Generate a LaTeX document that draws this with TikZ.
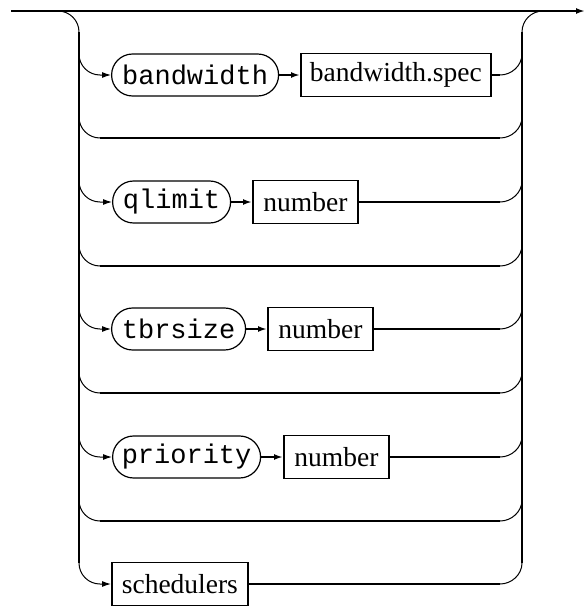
\documentclass[tikz,border=0pt]{standalone}
\usepackage{fontspec}
\setmainfont{Liberation Serif}
\setmonofont{Liberation Mono}
\usetikzlibrary{arrows.meta}
\begin{document}
\begin{tikzpicture}[x=1pt,y=-1pt,
  rail/.style={line width=1.8pt},
  curvy/.style={line width=1pt},
  tip/.style={-{Latex[length=9pt,width=6pt]}},
  pill/.style={draw,line width=1.2pt,rounded corners=21pt,minimum height=42pt,inner sep=0pt,anchor=west,font=\fontsize{27}{31}\selectfont\ttfamily},
  box/.style={draw,line width=1.8pt,minimum height=43pt,inner sep=0pt,anchor=west,font=\fontsize{27.5}{31}\selectfont}]
\useasboundingbox (0,0) rectangle (587,608);
% main line
\coordinate (start) at (11,11);
\coordinate (finish) at (585,11);
\coordinate (lt) at (58,11);
\coordinate (rt) at (543,11);
\draw[rail,-{Latex[length=9pt,width=6pt]}] (start) -- (finish);
% verticals
\draw[curvy] (lt) .. controls (69.6,11) and (79,20.4) .. (79,32);
\draw[curvy] (522,32) .. controls (522,20.4) and (531.4,11) .. (rt);
\draw[rail] (79,32) -- (79,563);
\draw[rail] (522,32) -- (522,563);
% nodes
\node[pill,minimum width=167pt] (bw) at (111,75) {bandwidth};
\node[box,minimum width=190pt] (bws) at (300,75) {bandwidth.spec};
\node[pill,minimum width=118pt] (ql) at (112,202) {qlimit};
\node[box,minimum width=105pt] (n1) at (252,202) {number};
\node[pill,minimum width=134pt] (tb) at (111,329) {tbrsize};
\node[box,minimum width=105pt] (n2) at (267,329) {number};
\node[pill,minimum width=148pt] (pr) at (112,457) {priority};
\node[box,minimum width=105pt] (n3) at (283,457) {number};
\node[box,minimum width=136pt] (sc) at (111,584) {schedulers};
% arrows between nodes
\draw[rail,tip] (bw.east) -- (bws.west);
\draw[rail,tip] (ql.east) -- (n1.west);
\draw[rail,tip] (tb.east) -- (n2.west);
\draw[rail,tip] (pr.east) -- (n3.west);
% entries into rows
\foreach \r/\n in {75/bw,202/ql,329/tb,457/pr,584/sc}{
  \draw[curvy,tip] (79,\r-21) .. controls (79,\r-9.4) and (88.4,\r) .. (100,\r) -- (\n.west);
}
% exits
\foreach \r/\n in {75/bws,202/n1,329/n2,457/n3,584/sc}{
  \draw[rail] (\n.east) -- (500,\r);
}
\foreach \r in {75,138,202,266,329,393,457,521,584}{
  \draw[curvy] (500,\r) .. controls (511.6,\r) and (522,\r-9.4) .. (522,\r-21);
}
% empty rows
\foreach \r in {138,266,393,521}{
  \draw[curvy] (79,\r-21) .. controls (79,\r-9.4) and (88.4,\r) .. (100,\r);
  \draw[rail] (100,\r) -- (500,\r);
}
\end{tikzpicture}
\end{document}
